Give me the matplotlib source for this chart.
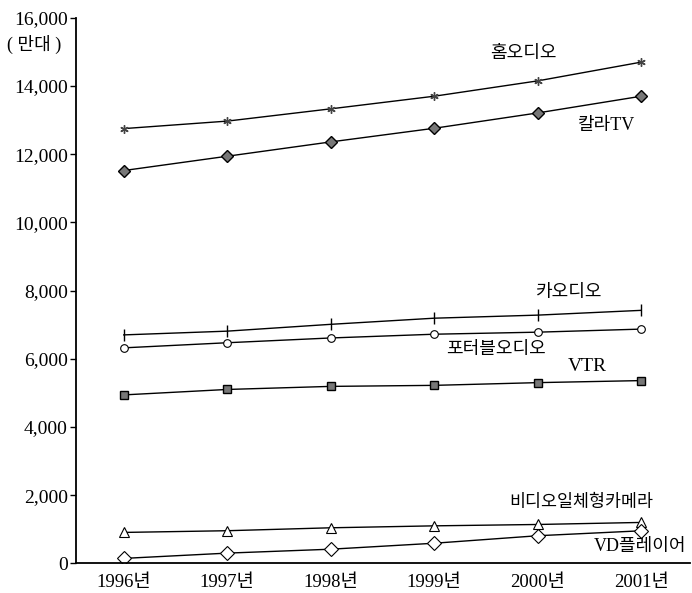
import numpy as np
import matplotlib.pyplot as plt
from matplotlib.ticker import FuncFormatter

plt.rcParams['font.family'] = ['Liberation Serif', 'Noto Sans CJK KR']

years = ['1996년', '1997년', '1998년', '1999년', '2000년', '2001년']

home_audio = [12750, 12970, 13330, 13700, 14150, 14700]
color_tv = [11520, 11940, 12360, 12760, 13210, 13700]
car_audio = [6700, 6810, 7010, 7190, 7280, 7420]
portable_audio = [6320, 6470, 6610, 6720, 6780, 6870]
vtr = [4940, 5100, 5190, 5220, 5300, 5360]
camcorder = [907, 957, 1043, 1100, 1140, 1200]
vd_player = [145, 300, 415, 590, 810, 955]

x = np.arange(len(years))

fig = plt.figure(figsize=(6.92, 5.93), dpi=100)
ax = fig.add_axes([0.110, 0.050, 0.887, 0.920])

lw = 1.0
ax.plot(x, home_audio, color='black', lw=lw, marker=(6, 2, 0), ms=6, mec='#444444', mew=1.0)
ax.plot(x, color_tv, color='black', lw=lw, marker='D', ms=6, mfc='#777777', mec='black', mew=1.0)
ax.plot(x, car_audio, color='black', lw=lw, marker='|', ms=8, mec='black', mew=1.0)
ax.plot(x, portable_audio, color='black', lw=lw, marker='o', ms=5.5, mfc='white', mec='black', mew=0.8)
ax.plot(x, vtr, color='black', lw=lw, marker='s', ms=6, mfc='#777777', mec='black', mew=1.0)
ax.plot(x, camcorder, color='black', lw=lw, marker='^', ms=7.5, mfc='white', mec='black', mew=0.8)
ax.plot(x, vd_player, color='black', lw=lw, marker='D', ms=7.5, mfc='white', mec='black', mew=0.8)

ax.text(3.86, 14940, '홈오디오', fontsize=13, ha='center', va='center')
ax.text(4.66, 12850, '칼라TV', fontsize=13, ha='center', va='center')
ax.text(4.30, 7940, '카오디오', fontsize=13, ha='center', va='center')
ax.text(3.60, 6260, '포터블오디오', fontsize=13, ha='center', va='center')
ax.text(4.48, 5770, 'VTR', fontsize=14, ha='center', va='center')
ax.text(4.42, 1780, '비디오일체형카메라', fontsize=12.5, ha='center', va='center')
ax.text(4.99, 490, 'VD플레이어', fontsize=13, ha='center', va='center')

ax.set_xlim(-0.46, 5.47)
ax.set_ylim(0, 16000)
ax.set_xticks(x)
ax.set_xticklabels(years, fontsize=13.5)
ax.set_yticks(np.arange(0, 16001, 2000))
ax.yaxis.set_major_formatter(FuncFormatter(lambda v, p: f'{int(v):,}'))
ax.tick_params(axis='y', labelsize=14, length=4, width=1, direction='out', pad=2)
ax.tick_params(axis='x', length=0, pad=8)
for s in ['top', 'right']:
    ax.spines[s].set_visible(False)
ax.spines['left'].set_linewidth(1.3)
ax.spines['bottom'].set_linewidth(1.3)

fig.text(0.010, 0.925, '( 만대 )', fontsize=13, ha='left', va='center')

fig.savefig('out.png', dpi=100)
